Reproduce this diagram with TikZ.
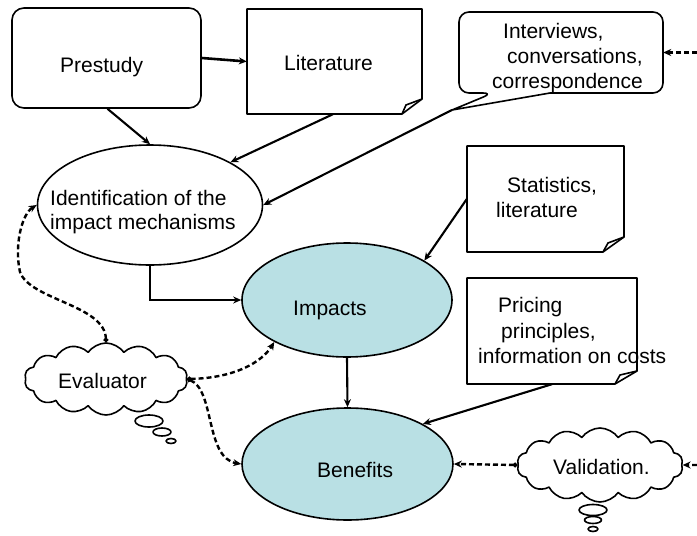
\documentclass[tikz,border=0pt]{standalone}
\usepackage{fontspec}
\setmainfont{Liberation Sans}
\usetikzlibrary{shapes.geometric,shapes.symbols,arrows.meta,calc}
\definecolor{impactfill}{RGB}{185,224,228}
\begin{document}
\begin{tikzpicture}[x=1pt,y=-1pt,
  font=\fontsize{21}{25}\selectfont,
  outline/.style={draw,line width=1.6pt,line join=round},
  ghost/.style={rectangle,draw=none,inner sep=0pt},
  oval/.style={ellipse,outline,inner sep=0pt},
  thought/.style={cloud,cloud puffs=14,cloud puff arc=110,cloud ignores aspect,
    outline,fill=white,inner sep=0pt},
  bubble/.style={ellipse,outline,fill=white,inner sep=0pt},
  txt/.style={anchor=base west,inner sep=0pt},
  conn/.style={draw,line width=2.1pt,-{Stealth[length=8pt,width=7pt]}},
  dconn/.style={draw,line width=2.4pt,dash pattern=on 5pt off 3pt,
    {Circle[length=4.5pt]}-{Stealth[length=8pt,width=7pt]}},
]
\useasboundingbox (0,0) rectangle (697,536);

% --- Prestudy (rounded box)
\node[outline,rounded corners=12pt,minimum width=189pt,minimum height=100pt,inner sep=0pt]
  (pre) at (106.5,58) {};
\node[txt] (preT) at (60,72) {Prestudy};

% --- Literature (document with folded corner)
\node[ghost,minimum width=175pt,minimum height=105pt] (lit) at (334.5,61.5) {};
\draw[outline] (247,9) -- (422,9) -- (422,99) -- (402,114) -- (247,114) -- cycle;
\draw[outline] (402,114) -- (406,105) -- (422,99);
\node[txt] (litT) at (284,70) {Literature};

% --- Interviews (rounded callout)
\node[ghost,minimum width=204pt,minimum height=81pt] (interv) at (561,52.5) {};
\coordinate (intervtip) at (452,110);
\draw[outline,rounded corners=10pt] (550,93) -- (663,93) -- (663,12) -- (459,12) -- (459,93)
  -- (493,93) [sharp corners] -- (intervtip) -- (550,93);
\node[txt] (intervA) at (503,38) {Interviews,};
\node[txt] (intervB) at (507,63) {conversations,};
\node[txt] (intervC) at (492,88) {correspondence};

% --- Identification of the impact mechanisms
\node[oval,minimum width=225pt,minimum height=120pt] (ident) at (150,205) {};
\node[txt] (identA) at (50,205) {Identification of the};
\node[txt] (identB) at (50,229) {impact mechanisms};

% --- Statistics, literature
\node[ghost,minimum width=157pt,minimum height=106pt] (stats) at (545.5,199) {};
\draw[outline] (467,146) -- (624,146) -- (624,237) -- (603,252) -- (467,252) -- cycle;
\draw[outline] (603,252) -- (608,243) -- (624,237);
\node[txt] (statsA) at (507,192) {Statistics,};
\node[txt] (statsB) at (496,217) {literature};

% --- Impacts
\node[oval,fill=impactfill,minimum width=210pt,minimum height=114pt] (impacts) at (347,300) {};
\node[txt] (impactsT) at (293,315) {Impacts};

% --- Pricing principles
\node[ghost,minimum width=170pt,minimum height=106pt] (pricing) at (552,331) {};
\draw[outline] (467,278) -- (637,278) -- (637,371) -- (615,384) -- (467,384) -- cycle;
\draw[outline] (615,384) -- (620,375) -- (637,371);
\node[txt] (pricingA) at (498,312) {Pricing};
\node[txt] (pricingB) at (501,338) {principles,};
\node[txt] (pricingC) at (478,363) {information on costs};

% --- Benefits
\node[oval,fill=impactfill,minimum width=211pt,minimum height=112pt] (benefits) at (347.5,464) {};
\node[txt] (benefitsT) at (317,477) {Benefits};

% --- Evaluator (thought cloud)
\node[thought,minimum width=163pt,minimum height=72pt] (eval) at (106,379) {};
\node[txt] (evalT) at (58,388) {Evaluator};
\node[bubble,minimum width=28pt,minimum height=12pt] (evalB1) at (149,421) {};
\node[bubble,minimum width=18pt,minimum height=8pt] (evalB2) at (162,432) {};
\node[bubble,minimum width=10pt,minimum height=5pt] (evalB3) at (171,441) {};

% --- Validation (thought cloud)
\node[thought,minimum width=166pt,minimum height=74pt] (val) at (600,465) {};
\node[txt] (valT) at (553,474) {Validation.};
\node[bubble,minimum width=28pt,minimum height=11pt] (valB1) at (593,510) {};
\node[bubble,minimum width=17pt,minimum height=7pt] (valB2) at (593,520) {};
\node[bubble,minimum width=10pt,minimum height=5pt] (valB3) at (593,529) {};

% --- open ends of the feedback lines at the right margin
\coordinate (rtop) at (697,52.5);
\coordinate (rval) at (697,465);

% --- solid connectors
\draw[conn,line width=2.6pt] (pre.east) -- (lit.west);
\draw[conn] ($(pre.south)+(1,0)$) -- (ident.north);
\draw[conn] ($(lit.south)+(-1.5,0)$) -- (ident.28);
\draw[conn] (intervtip) -- (ident.east);
\draw[conn,line width=2.8pt] (ident.south) |- (impacts.west);
\draw[conn] (stats.west) -- (impacts.27);
\draw[conn] (impacts.south) -- (benefits.north);
\draw[conn] (pricing.south) -- (benefits.28);

% --- dashed connectors
\draw[dconn] (eval.north) .. controls (105,305) and (30,300) .. (20,272)
  .. controls (14,245) and (22,214) .. (ident.west);
\draw[dconn] (eval.east) .. controls (235,378) and (262,362) .. (impacts.210);
\draw[dconn] (eval.east) .. controls (215,390) and (205,458) .. (benefits.west);
\draw[dconn] (val.west) -- (benefits.east);
\draw[dconn,-{Stealth[length=8pt,width=7pt]}] (rval) -- (val.east);
\draw[dconn,-{Stealth[length=8pt,width=7pt]}] (rtop) -- (interv.east);
\end{tikzpicture}
\end{document}
